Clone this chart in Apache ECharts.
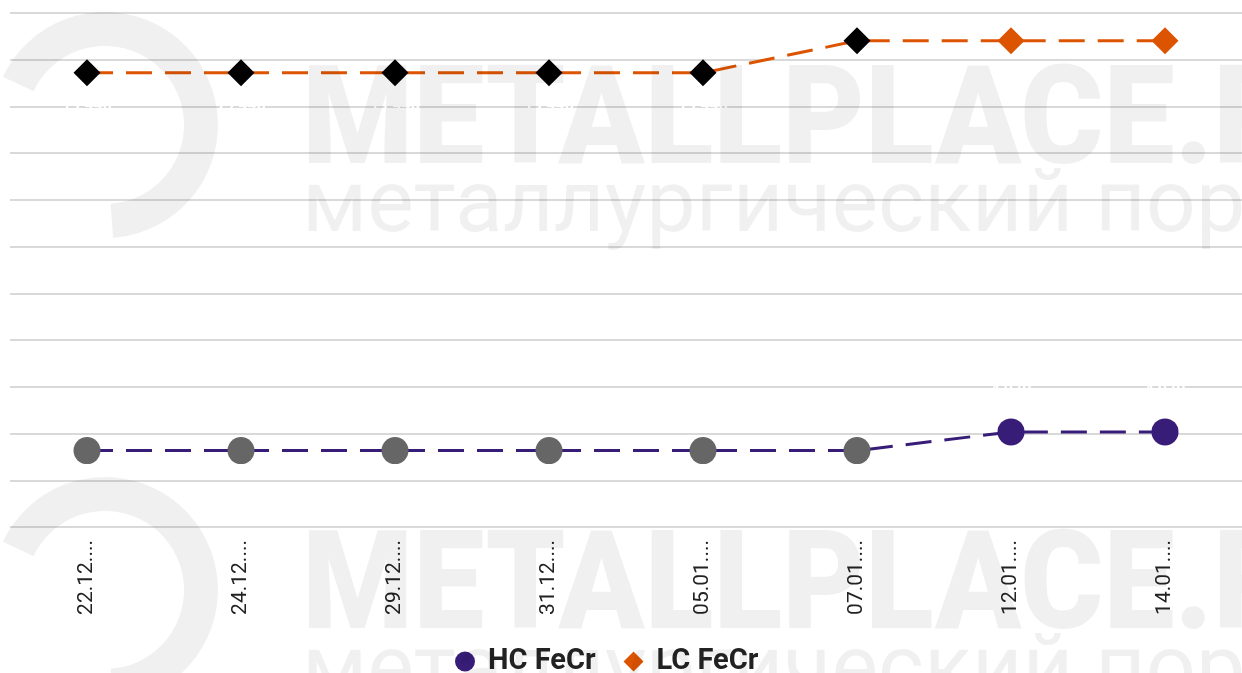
<!DOCTYPE html>
<html>
<head>
<meta charset="utf-8">
<script src="https://cdn.jsdelivr.net/npm/echarts@6/dist/echarts.min.js"></script>
<style>
  html, body { margin: 0; padding: 0; background: #fff; }
  #chart { width: 1242px; height: 673px; }
</style>
</head>
<body>
<div id="chart"></div>
<script>
const categories = ['22.12.2025', '24.12.2025', '29.12.2025', '31.12.2025', '05.01.2026', '07.01.2026', '12.01.2026', '14.01.2026'];
const hcValues = [3270, 3270, 3270, 3270, 3270, 3270, 4070, 4070];
const lcValues = [19440, 19440, 19440, 19440, 19440, 20810, 20810, 20810];
// older readings are drawn in a different colour
const hcOldCount = 6;
const lcOldCount = 6;

const HC_COLOR = '#371d78';
const LC_COLOR = '#dd5400';
// watermark is laid over the chart as a faint tint
const WM = 'rgba(0,0,0,0.059)';

const chart = echarts.init(document.getElementById('chart'));

const hcData = hcValues.map((v, i) => ({
  value: v,
  itemStyle: i < hcOldCount ? { color: '#666666' } : undefined,
}));
const lcData = lcValues.map((v, i) => ({
  value: v,
  itemStyle: i < lcOldCount ? { color: '#000000' } : undefined,
}));

const fmt = (p) => String(p.value).replace(/\B(?=(\d{3})+(?!\d))/g, ' ');

function watermark(dy) {
  return [
    {
      type: 'arc',
      z: 100,
      silent: true,
      shape: { cx: 105, cy: 125 + dy, r: 96, startAngle: -2.7, endAngle: 1.5 },
      style: { stroke: WM, lineWidth: 34, fill: null },
    },
    {
      type: 'text',
      z: 100,
      silent: true,
      x: 302,
      y: 59 + dy,
      scaleX: 0.92,
      style: {
        text: 'METALLPLACE.RU',
        font: '900 138px Roboto',
        fill: WM,
        verticalAlign: 'top',
      },
    },
    {
      type: 'text',
      z: 100,
      silent: true,
      x: 302,
      y: 165 + dy,
      style: {
        text: 'металлургический портал',
        font: '400 88px Roboto',
        fill: WM,
        verticalAlign: 'top',
      },
    },
  ];
}

const option = {
  backgroundColor: '#ffffff',
  animation: false,
  graphic: { elements: [...watermark(0), ...watermark(465)] },
  grid: {
    left: 10,
    width: 1235,
    top: 13,
    bottom: 146,
    containLabel: false,
  },
  legend: {
    bottom: -8,
    left: 450,
    itemWidth: 20,
    itemHeight: 20,
    itemGap: 28,
    textStyle: {
      fontFamily: 'Roboto',
      fontWeight: 'bold',
      fontSize: 29,
      color: '#222222',
      padding: [0, 0, 0, 8],
    },
    data: [
      { name: 'HC FeCr', icon: 'circle' },
      { name: 'LC FeCr', icon: 'diamond' },
    ],
  },
  xAxis: {
    type: 'category',
    data: categories,
    boundaryGap: true,
    axisLine: { show: false },
    axisTick: { show: false },
    splitLine: { show: false },
    axisLabel: {
      rotate: 90,
      margin: 13,
      fontFamily: 'Roboto',
      fontSize: 21,
      color: '#222222',
      formatter: (v) => v.slice(0, 6) + '...',
    },
  },
  yAxis: {
    type: 'value',
    min: 0,
    max: 22000,
    interval: 2000,
    axisLine: { show: false },
    axisTick: { show: false },
    axisLabel: { show: false },
    splitLine: { lineStyle: { color: '#cccccc', width: 1.5 } },
  },
  series: [
    {
      name: 'HC FeCr',
      type: 'line',
      data: hcData,
      symbol: 'circle',
      symbolSize: 27,
      itemStyle: { color: HC_COLOR },
      lineStyle: { color: HC_COLOR, width: 3, type: [26, 13] },
      label: {
        show: true,
        position: 'top',
        distance: 19,
        color: '#ffffff',
        fontFamily: 'Roboto',
        fontWeight: 'bold',
        fontSize: 16,
        formatter: fmt,
      },
      z: 3,
    },
    {
      name: 'LC FeCr',
      type: 'line',
      data: lcData,
      symbol: 'diamond',
      symbolSize: 27,
      itemStyle: { color: LC_COLOR },
      lineStyle: { color: LC_COLOR, width: 3, type: [26, 13] },
      label: {
        show: true,
        position: 'bottom',
        distance: 12,
        color: '#ffffff',
        fontFamily: 'Roboto',
        fontWeight: 'bold',
        fontSize: 16,
        formatter: fmt,
      },
      z: 3,
    },
  ],
};

chart.setOption(option);
</script>
</body>
</html>
